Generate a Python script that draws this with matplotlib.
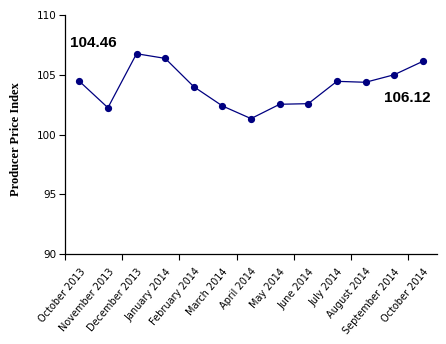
import matplotlib.pyplot as plt
import numpy as np

MONTHS = ["October 2013", "November 2013", "December 2013", "January 2014",
          "February 2014", "March 2014", "April 2014", "May 2014", "June 2014",
          "July 2014", "August 2014", "September 2014", "October 2014"]
PPI = [104.46, 102.24, 106.76, 106.37, 104.0, 102.39, 101.33,
       102.53, 102.58, 104.45, 104.37, 105.0, 106.12]
LINE_COLOR = "#000080"

fig = plt.figure(figsize=(4.46, 3.44), dpi=100)
ax = fig.add_axes([0.1457, 0.2616, 0.8343, 0.6948])

x = np.arange(len(MONTHS))
ax.plot(x, PPI, color=LINE_COLOR, linewidth=0.9, marker="o", markersize=4.2)

# first and last values
ax.annotate(f"{PPI[0]:.2f}", (x[0], PPI[0]), xytext=(10.3, 27.4),
            textcoords="offset points", ha="center", va="center",
            fontsize=11, fontweight="bold", family="Liberation Sans")
ax.annotate(f"{PPI[-1]:.2f}", (x[-1], PPI[-1]), xytext=(-11.3, -26.4),
            textcoords="offset points", ha="center", va="center",
            fontsize=11, fontweight="bold", family="Liberation Sans")

ax.set_xlim(-0.5, len(MONTHS) - 0.5)
ax.set_ylim(90, 110)
ax.set_yticks([90, 95, 100, 105, 110])

# labels on every month, tick marks every two months between categories
ax.set_xticks(x)
ax.set_xticklabels(MONTHS, rotation=50, ha="right", rotation_mode="anchor")
ax.set_xticks(np.arange(-0.5, len(MONTHS) - 0.5, 2), minor=True)
ax.tick_params(axis="x", which="major", length=0, pad=9, labelsize=7)
ax.tick_params(axis="x", which="minor", length=4, width=0.8)
ax.tick_params(axis="y", length=4, width=0.8, labelsize=7.5, pad=2)

ax.set_ylabel("Producer Price Index", family="Liberation Serif",
              fontweight="bold", fontsize=9, labelpad=10)
ax.yaxis.set_label_coords(-0.115, 0.48)

ax.spines["top"].set_visible(False)
ax.spines["right"].set_visible(False)
for s in ("left", "bottom"):
    ax.spines[s].set_linewidth(0.9)

fig.savefig("out.png", dpi=100)
